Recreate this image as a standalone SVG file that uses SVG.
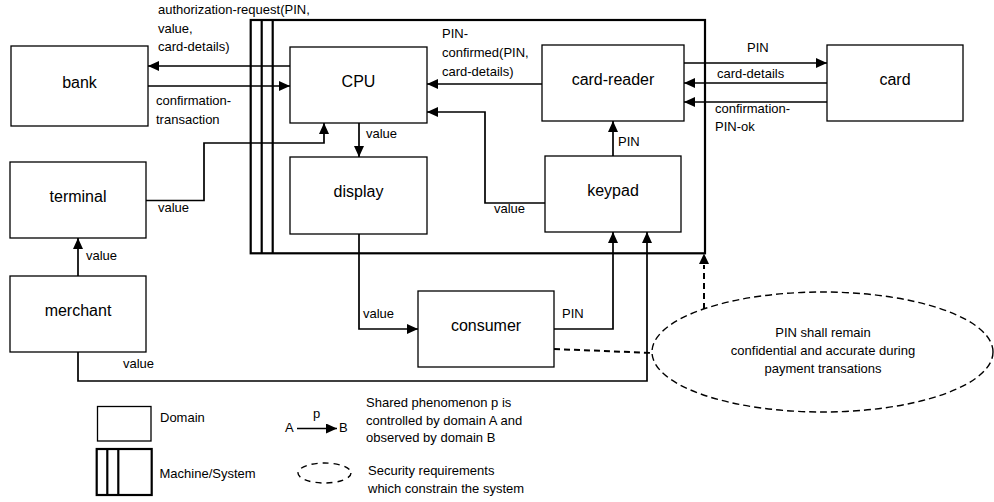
<svg xmlns="http://www.w3.org/2000/svg" width="994" height="502" viewBox="0 0 994 502">
<style>
.box{fill:#fff;stroke:#000;stroke-width:1.3}
.mach{fill:none;stroke:#000;stroke-width:2.2}
.node{font-family:"Liberation Sans",Arial,sans-serif;font-size:16px;text-anchor:middle;fill:#000}
.lbl{font-family:"Liberation Sans",Arial,sans-serif;font-size:13px;fill:#000}
.edge{fill:none;stroke:#000;stroke-width:1.7;marker-end:url(#ah)}
.dash{fill:none;stroke:#000;stroke-width:2;stroke-dasharray:6 4}
.req{fill:none;stroke:#000;stroke-width:1.4;stroke-dasharray:7 4}
</style>
<defs>
<marker id="ah" markerUnits="userSpaceOnUse" markerWidth="11" markerHeight="10" refX="11" refY="5" orient="auto">
<path d="M0,0 L11,5 L0,10 z" fill="#000"/>
</marker>
</defs>
<rect width="994" height="502" fill="#fff"/>

<g id="machine">
<rect class="mach" x="250.7" y="20" width="454.3" height="233.3"/>
<line class="mach" x1="261.7" y1="20" x2="261.7" y2="253.3"/>
<line class="mach" x1="272.7" y1="20" x2="272.7" y2="253.3"/>
</g>

<g id="bank"><rect class="box" x="11" y="46" width="137" height="80"/><text class="node" x="79.5" y="87.5">bank</text></g>
<g id="cpu"><rect class="box" x="290" y="47" width="137" height="76"/><text class="node" x="358.5" y="86.5">CPU</text></g>
<g id="card-reader"><rect class="box" x="542" y="45" width="142" height="76"/><text class="node" x="613" y="84.5">card-reader</text></g>
<g id="card"><rect class="box" x="827" y="45" width="136" height="76"/><text class="node" x="895" y="84.5">card</text></g>
<g id="display"><rect class="box" x="290" y="157" width="137" height="77"/><text class="node" x="358.5" y="197">display</text></g>
<g id="keypad"><rect class="box" x="545" y="156" width="136" height="76"/><text class="node" x="613" y="195.5">keypad</text></g>
<g id="terminal"><rect class="box" x="10" y="162" width="136" height="76"/><text class="node" x="78" y="201.5">terminal</text></g>
<g id="merchant"><rect class="box" x="10" y="276" width="136" height="76"/><text class="node" x="78" y="315.5">merchant</text></g>
<g id="consumer"><rect class="box" x="418" y="291" width="136" height="76"/><text class="node" x="486" y="330.5">consumer</text></g>
<g id="requirement">
<ellipse class="req" cx="822.5" cy="352" rx="170.5" ry="60"/>
<text class="lbl" text-anchor="middle" x="823" y="337">PIN shall remain</text>
<text class="lbl" text-anchor="middle" x="823" y="355">confidential and accurate during</text>
<text class="lbl" text-anchor="middle" x="823" y="373">payment transations</text>
</g>

<g id="connectors">
<path class="edge" d="M290,66 L148,66"/>
<path class="edge" d="M148,86 L290,86"/>
<path class="edge" d="M542,84 L427,84"/>
<path class="edge" d="M545,203 L485,203 L485,112 L427,112"/>
<path class="edge" d="M359,123 L359,157"/>
<path class="edge" d="M613,156 L613,121"/>
<path class="edge" d="M684,63 L827,63"/>
<path class="edge" d="M827,83 L684,83"/>
<path class="edge" d="M827,102 L684,102"/>
<path class="edge" d="M146,200.5 L204,200.5 L204,143 L324,143 L324,123"/>
<path class="edge" d="M78,276 L78,238"/>
<path class="edge" d="M78,352 L78,381 L647,381 L647,232"/>
<path class="edge" d="M359,234 L359,329 L418,329"/>
<path class="edge" d="M554,329 L613,329 L613,232"/>
<path class="dash" d="M554,349 L653,353"/>
<path class="dash" d="M704,309 L704,265"/>
<path d="M704,253.5 L699,264 L709,264 z" fill="#000"/>

<text class="lbl" x="158" y="14">authorization-request(PIN,</text>
<text class="lbl" x="158" y="32.5">value,</text>
<text class="lbl" x="158" y="51">card-details)</text>
<text class="lbl" x="156" y="105">confirmation-</text>
<text class="lbl" x="156" y="124">transaction</text>
<text class="lbl" x="442" y="38">PIN-</text>
<text class="lbl" x="442" y="57">confirmed(PIN,</text>
<text class="lbl" x="442" y="76">card-details)</text>
<text class="lbl" x="366" y="138">value</text>
<text class="lbl" x="618" y="146">PIN</text>
<text class="lbl" x="747" y="52">PIN</text>
<text class="lbl" x="717" y="78">card-details</text>
<text class="lbl" x="715" y="113">confirmation-</text>
<text class="lbl" x="715" y="131">PIN-ok</text>
<text class="lbl" x="158" y="212">value</text>
<text class="lbl" x="86" y="260">value</text>
<text class="lbl" x="123" y="368">value</text>
<text class="lbl" x="363" y="318">value</text>
<text class="lbl" x="562" y="318">PIN</text>
<text class="lbl" x="494" y="213">value</text>
</g>

<g id="legend">
<rect class="box" x="97.5" y="406.5" width="53.5" height="34.5"/>
<text class="lbl" x="160" y="422">Domain</text>
<rect class="mach" x="96.7" y="449" width="55" height="46"/>
<line class="mach" x1="107.3" y1="449" x2="107.3" y2="495"/>
<line class="mach" x1="118.3" y1="449" x2="118.3" y2="495"/>
<text class="lbl" x="159.5" y="478">Machine/System</text>
<text class="lbl" x="285" y="432">A</text>
<path class="edge" d="M297,428.5 L337,428.5"/>
<text class="lbl" x="313" y="418">p</text>
<text class="lbl" x="339" y="432">B</text>
<text class="lbl" x="366" y="407">Shared phenomenon p is</text>
<text class="lbl" x="366" y="425">controlled by domain A and</text>
<text class="lbl" x="366" y="442">observed by domain B</text>
<ellipse cx="324.5" cy="473" rx="26.5" ry="10" fill="none" stroke="#000" stroke-width="1.4" stroke-dasharray="6 5"/>
<text class="lbl" x="368" y="475">Security requirements</text>
<text class="lbl" x="368" y="493">which constrain the system</text>
</g>
</svg>
